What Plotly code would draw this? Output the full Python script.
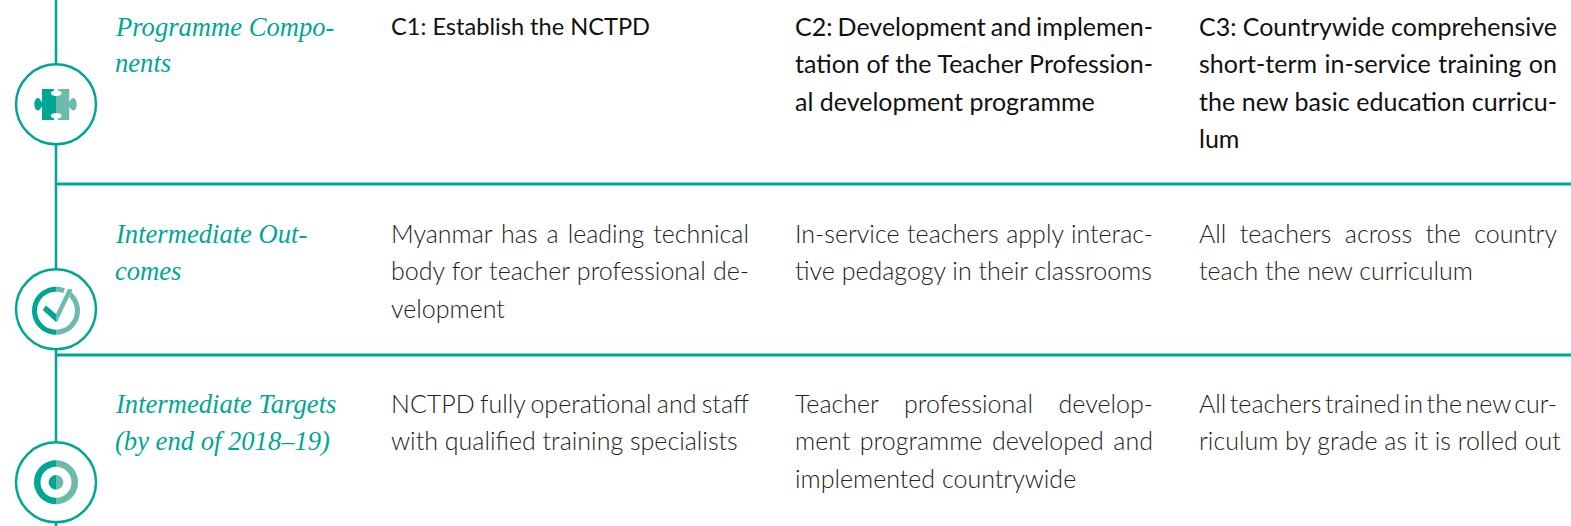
import json
import plotly.graph_objects as go

TEAL = "#00A694"
LIGHT = "#6DBAAD"

row_titles = [["Programme Compo-", "nents"], ["Intermediate Out-", "comes"], ["Intermediate Targets", "(by end of 2018–19)"]]
row_line_y = [[27, 63], [234, 271], [404, 441]]
col_x = [391, 795, 1199]
col_w = 358
components = [
    ["C1: Establish the NCTPD"],
    ["C2: Development and implemen-", "tation of the Teacher Profession-", "al development programme"],
    ["C3: Countrywide comprehensive", "short-term in-service training on", "the new basic education curricu-", "lum"],
]
outcomes = [
    ["Myanmar has a leading technical", "body for teacher professional de-", "velopment"],
    ["In-service teachers apply interac-", "tive pedagogy in their classrooms"],
    ["All teachers across the country", "teach the new curriculum"],
]
targets = [
    ["NCTPD fully operational and staff", "with qualified training specialists"],
    ["Teacher professional develop-", "ment programme developed and", "implemented countrywide"],
    ["All teachers trained in the new cur-", "riculum by grade as it is rolled out"],
]
row_top = [26, 233, 403]
line_gap = 37.3
rule_y = [184, 355]
stem_x = 56
icon_y = [104.3, 309.3, 482.3]

fig = go.Figure()
fig.add_trace(go.Scatter(x=[0, 1571], y=[0, 526], mode="markers", marker=dict(opacity=0), hoverinfo="skip", showlegend=False))

anns = []
def text(x, y, s, **font):
    anns.append(dict(x=x, y=y, xref="x", yref="y", text=s, showarrow=False, xanchor="left", yanchor="middle", font=font, borderpad=0, borderwidth=0))

for lines, ys in zip(row_titles, row_line_y):
    for s, y in zip(lines, ys):
        text(115, y, "<i>" + s + "</i>", family="Liberation Serif", size=26.6, color=TEAL)
for cx, lines in zip(col_x, components):
    for i, s in enumerate(lines):
        size = 23.6 if len(lines) == 1 else 25
        text(cx, row_top[0] + i * line_gap, s, family="Lato", size=size, color="#111111", weight=400)
for r, group in zip(row_top[1:], [outcomes, targets]):
    for cx, lines in zip(col_x, group):
        for i, s in enumerate(lines):
            text(cx, r + i * line_gap, s, family="Lato", size=25, color="#222222", weight=300)

shapes = []
def line(x0, y0, x1, y1, w, c=TEAL):
    shapes.append(dict(type="line", xref="x", yref="y", x0=x0, y0=y0, x1=x1, y1=y1, line=dict(color=c, width=w)))
def ell(x0, x1, y0, y1, fill):
    shapes.append(dict(type="circle", xref="x", yref="y", x0=x0, x1=x1, y0=y0, y1=y1, fillcolor=fill, line=dict(width=0)))
def circ(cx, cy, r, fill, lc=None, w=0):
    shapes.append(dict(type="circle", xref="x", yref="y", x0=cx - r, x1=cx + r, y0=cy - r, y1=cy + r,
                       fillcolor=fill, line=dict(color=lc or fill, width=w)))
K = 0.5523
def half(cx, cy, r, side, fill):
    s = -1 if side == "l" else 1
    k = K * r
    p = (f"M{cx},{cy-r} C{cx+s*k},{cy-r} {cx+s*r},{cy-k} {cx+s*r},{cy} "
         f"C{cx+s*r},{cy+k} {cx+s*k},{cy+r} {cx},{cy+r} Z")
    shapes.append(dict(type="path", xref="x", yref="y", path=p, fillcolor=fill, line=dict(width=0)))
def poly(pts, fill):
    shapes.append(dict(type="path", xref="x", yref="y", path="M" + " L".join(f"{x},{y}" for x, y in pts) + " Z", fillcolor=fill, line=dict(width=0)))

line(stem_x, 0, stem_x, 526, 2.5)
for y in rule_y:
    line(stem_x, y, 1571, y, 3)
for y in icon_y:
    circ(stem_x, y, 40, "white", TEAL, 2.5)

# puzzle
poly([(42, 89), (56, 89), (56, 120), (42, 120)], TEAL)
poly([(56, 89), (69.3, 89), (69.3, 120), (56, 120)], LIGHT)
ell(34.3, 41.5, 98, 110.5, TEAL)
poly([(39, 101.5), (43, 101.5), (43, 107), (39, 107)], TEAL)
ell(69.5, 76.7, 98, 110.5, LIGHT)
poly([(68, 101.5), (72, 101.5), (72, 107), (68, 107)], LIGHT)
ell(50.7, 61.7, 90.5, 96, "white")
poly([(54, 88), (58, 88), (58, 92), (54, 92)], "white")
ell(50.7, 61.7, 113, 118.5, "white")
poly([(54, 117), (58, 117), (58, 121), (54, 121)], "white")

# check
half(stem_x, 310.7, 24, "l", TEAL)
half(stem_x, 310.7, 24, "r", LIGHT)
circ(stem_x, 310.7, 19, "white")
poly([(66, 286), (74, 286), (58, 322), (54, 322), (44, 308), (48, 304), (56, 312)], "white")
poly([(42.7, 310), (46, 305.5), (56, 314), (56, 322)], TEAL)
poly([(56, 314), (68, 289), (72.7, 289.3), (57, 322), (56, 322)], LIGHT)

# target
half(stem_x, icon_y[2], 22, "l", TEAL)
half(stem_x, icon_y[2], 22, "r", LIGHT)
circ(stem_x, icon_y[2], 15.5, "white")
half(stem_x, icon_y[2], 7.3, "l", TEAL)
half(stem_x, icon_y[2], 7.3, "r", LIGHT)

fig.update_layout(width=1571, height=526, margin=dict(l=0, r=0, t=0, b=0), paper_bgcolor="white", plot_bgcolor="white",
                  autosize=False, showlegend=False, annotations=anns, shapes=shapes,
                  xaxis=dict(range=[0, 1571], visible=False, fixedrange=True),
                  yaxis=dict(range=[526, 0], visible=False, fixedrange=True))

# Full-measure lines of the body text are set justified, as in the reference.
groups = components + outcomes + targets
width_of = {ln: col_w for g in groups for ln in g[:-1]}
post = """
document.body.style.margin='0';document.documentElement.style.overflow='hidden';
var W=%s;
document.querySelectorAll('.annotation-text').forEach(function(t){
  var s=t.textContent; if(!(s in W)) return;
  var n=s.split(' ').length-1; if(n<1) return;
  var L=t.getComputedTextLength();
  t.style.wordSpacing=((W[s]-L)/n)+'px';
  t.setAttribute('x', parseFloat(t.getAttribute('x'))+(W[s]-L)/2);
});
""" % json.dumps(width_of)
fig.write_html("out.html", config=dict(displayModeBar=False), post_script=post)
